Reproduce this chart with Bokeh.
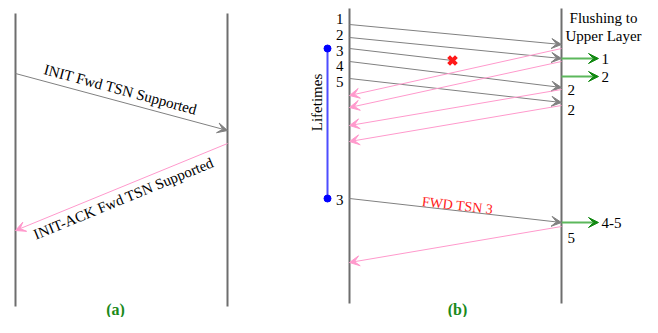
from bokeh.plotting import figure
from bokeh.models import Range1d, Arrow, VeeHead, ColumnDataSource, Label
from bokeh.embed import file_html
from bokeh.resources import INLINE
import math

# ---------------- data (time axis runs downward) ----------------
# panel (a): association setup
init_send_t, init_recv_t = 73, 130
ack_send_t, ack_recv_t = 143, 230

# panel (b): partial reliability example
tsn_labels = ["1", "2", "3", "4", "5"]
tsn_label_t = [18, 34, 50, 65, 81]
data_send_t = [24, 37, 48, 61, 78]
data_recv_t = [44, 58, 60, 87, 102]   # TSN 3 is lost on the way
lost_tsn = "3"
sack_send_t = [48, 61, 89, 105]
sack_recv_t = [95, 107, 125, 141]
sack_labels = ["2", "2"]
sack_label_t = [89, 109]
deliver_t = [58, 76, 222]
deliver_labels = ["1", "2", "4-5"]
fwd_send_t, fwd_recv_t = 198, 222
last_sack_send_t, last_sack_recv_t = 226, 262
last_sack_label = "5"
lifetime_start_t, lifetime_end_t = 48, 198

# ---------------- layout ----------------
AL, AR = 15, 227      # panel (a) endpoints
BL, BR = 349, 561     # panel (b) endpoints
LOST_X = 452
LIFE_X = 327
DELIVER_LEN = 37

GRAY = "#808080"
PINK = "#ff99cc"
GREEN_LINE = "#5cb85c"
GREEN_HEAD = "#118811"
FONT = "Liberation Serif"

p = figure(width=642, height=317, x_range=Range1d(0, 642), y_range=Range1d(317, 0),
           output_backend="svg", toolbar_location=None, min_border=0)
p.axis.visible = False
p.grid.visible = False
p.outline_line_color = None
p.background_fill_color = "white"

# vertical endpoint lines
p.segment(x0=[AL, AR, BL, BR], y0=[13, 13, 8, 8], x1=[AL, AR, BL, BR], y1=[306, 306, 303, 303],
          line_color="#6e6e6e", line_width=2)


def arrows(xs, ys, xe, ye, color, head_color, width=1, size=10):
    src = ColumnDataSource(dict(xs=xs, ys=ys, xe=xe, ye=ye))
    p.add_layout(Arrow(x_start="xs", y_start="ys", x_end="xe", y_end="ye", source=src,
                       line_color=color, line_width=width,
                       end=VeeHead(size=size, fill_color=head_color, line_color=head_color)))


def label(x, y, text, size="14px", color="black", align="center", baseline="middle",
          angle=0.0, style="normal"):
    p.add_layout(Label(x=x, y=y, text=text, text_font=FONT, text_font_size=size,
                       text_color=color, text_align=align, text_baseline=baseline,
                       angle=angle, text_font_style=style))


# ---------- panel (a) ----------
arrows([AL], [init_send_t], [AR], [init_recv_t], GRAY, GRAY)
arrows([AR], [ack_send_t], [AL], [ack_recv_t], PINK, PINK)
a1 = math.atan2(init_recv_t - init_send_t, AR - AL)
label(120, 89, "INIT Fwd TSN Supported", size="15px", angle=-a1)
a2 = math.atan2(ack_recv_t - ack_send_t, AR - AL)
label(123, 198, "INIT-ACK Fwd TSN Supported", size="15px", angle=a2)
label(115, 309, "(a)", size="16px", color="#1a8a1a", style="bold")

# ---------- panel (b) ----------
ok = [i for i, t in enumerate(tsn_labels) if t != lost_tsn]
arrows([BL for i in ok], [data_send_t[i] for i in ok], [BR for i in ok],
       [data_recv_t[i] for i in ok], GRAY, GRAY)
li = tsn_labels.index(lost_tsn)
p.segment(x0=[BL], y0=[data_send_t[li]], x1=[LOST_X], y1=[data_recv_t[li]],
          line_color=GRAY, line_width=1)
p.scatter(x=[LOST_X], y=[data_recv_t[li]], marker="x", size=11, line_width=4,
          line_color="#ff1a1a")
for t, y in zip(tsn_labels, tsn_label_t):
    label(BL - 6, y, t, size="15px", align="right")

arrows([BR] * len(sack_send_t), sack_send_t, [BL] * len(sack_recv_t), sack_recv_t, PINK, PINK)
for t, y in zip(sack_labels, sack_label_t):
    label(BR + 6, y, t, size="15px", align="left")

arrows([BR] * len(deliver_t), deliver_t, [BR + DELIVER_LEN] * len(deliver_t), deliver_t,
       GREEN_LINE, GREEN_HEAD, width=2, size=10)
for t, y in zip(deliver_labels, deliver_t):
    label(BR + DELIVER_LEN + 3, y, t, size="15px", align="left")

label(603, 17, "Flushing to", size="15px")
label(603, 35, "Upper Layer", size="15px")

# FORWARD TSN
arrows([BL], [fwd_send_t], [BR], [fwd_recv_t], GRAY, GRAY)
a3 = math.atan2(fwd_recv_t - fwd_send_t, BR - BL)
label(457, 205, "FWD TSN 3", size="14px", color="#ff2020", angle=-a3)
label(BL - 6, fwd_send_t + 1, lost_tsn, size="15px", align="right")

arrows([BR], [last_sack_send_t], [BL], [last_sack_recv_t], PINK, PINK)
label(BR + 6, 237, last_sack_label, size="15px", align="left")

# lifetime bar
p.segment(x0=[LIFE_X], y0=[lifetime_start_t], x1=[LIFE_X], y1=[lifetime_end_t],
          line_color="#4d4dff", line_width=2)
p.scatter(x=[LIFE_X, LIFE_X], y=[lifetime_start_t, lifetime_end_t], size=7,
          fill_color="#0000ff", line_color="#0000ff")
label(316, 102, "Lifetimes", size="15px", angle=math.pi / 2)

label(457, 309, "(b)", size="16px", color="#1a8a1a", style="bold")

open("out.html", "w").write(file_html(p, INLINE))
